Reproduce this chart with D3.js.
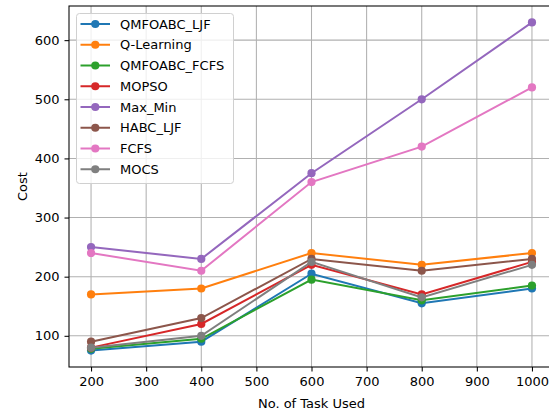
<!DOCTYPE html>
<html lang="en">
<head>
<meta charset="utf-8">
<title>Cost vs tasks</title>
<script src="https://d3js.org/d3.v7.min.js"></script>
<style>
  body { margin: 0; background: #fff; }
  svg { font-family: "DejaVu Sans", sans-serif; }
</style>
</head>
<body>
<script>
// data
var tasks = [200, 400, 600, 800, 1000];
var seriesNames = ["QMFOABC_LJF", "Q-Learning", "QMFOABC_FCFS", "MOPSO", "Max_Min", "HABC_LJF", "FCFS", "MOCS"];
var colors = ["#1f77b4", "#ff7f0e", "#2ca02c", "#d62728", "#9467bd", "#8c564b", "#e377c2", "#7f7f7f"];
var qmfoabcLjf = [75, 90, 205, 155, 180];
var qLearning = [170, 180, 240, 220, 240];
var qmfoabcFcfs = [78, 95, 195, 160, 185];
var mopso = [80, 120, 220, 170, 225];
var maxMin = [250, 230, 375, 500, 630];
var habcLjf = [90, 130, 230, 210, 230];
var fcfs = [240, 210, 360, 420, 520];
var mocs = [80, 100, 225, 165, 220];
var xTicks = [200, 300, 400, 500, 600, 700, 800, 900, 1000];
var yTicks = [100, 200, 300, 400, 500, 600];

var allSeries = [qmfoabcLjf, qLearning, qmfoabcFcfs, mopso, maxMin, habcLjf, fcfs, mocs];

var w = 549, h = 413;
var mLeft = 69, mRight = 554, mTop = 6, mBottom = 367;
var fs = 13;

var svg = d3.select("body").append("svg")
  .attr("width", w).attr("height", h);

var x = d3.scaleLinear().domain([160, 1040]).range([mLeft, mRight]);
var y = d3.scaleLinear().domain([47.25, 657.75]).range([mBottom, mTop]);

// grid
svg.append("g").selectAll("line").data(xTicks).enter().append("line")
  .attr("x1", d => x(d)).attr("x2", d => x(d))
  .attr("y1", mTop).attr("y2", mBottom)
  .attr("stroke", "#b0b0b0").attr("stroke-width", 1.05);
svg.append("g").selectAll("line").data(yTicks).enter().append("line")
  .attr("x1", mLeft).attr("x2", mRight)
  .attr("y1", d => y(d)).attr("y2", d => y(d))
  .attr("stroke", "#b0b0b0").attr("stroke-width", 1.05);

// lines and markers
var line = d3.line().x((d, i) => x(tasks[i])).y(d => y(d));
allSeries.forEach(function(vals, k) {
  svg.append("path").datum(vals)
    .attr("d", line).attr("fill", "none")
    .attr("stroke", colors[k]).attr("stroke-width", 2);
  svg.append("g").selectAll("circle").data(vals).enter().append("circle")
    .attr("cx", (d, i) => x(tasks[i])).attr("cy", d => y(d))
    .attr("r", 4.1).attr("fill", colors[k]);
});

// axes
var xAxis = d3.axisBottom(x).tickValues(xTicks).tickFormat(d3.format("d")).tickSize(4.5).tickPadding(5);
var yAxis = d3.axisLeft(y).tickValues(yTicks).tickFormat(d3.format("d")).tickSize(4.5).tickPadding(5);
var gx = svg.append("g").attr("transform", "translate(0," + mBottom + ")").call(xAxis);
var gy = svg.append("g").attr("transform", "translate(" + mLeft + ",0)").call(yAxis);
[gx, gy].forEach(function(g) {
  g.select(".domain").remove();
  g.selectAll("text").attr("font-size", fs).attr("fill", "#000").attr("font-family", "DejaVu Sans");
  g.selectAll("line").attr("stroke", "#000").attr("stroke-width", 1.05);
});
// spines
svg.append("rect").attr("x", mLeft).attr("y", mTop)
  .attr("width", mRight - mLeft).attr("height", mBottom - mTop)
  .attr("fill", "none").attr("stroke", "#000").attr("stroke-width", 1.05);

// labels
svg.append("text").attr("x", (mLeft + mRight) / 2).attr("y", 408)
  .attr("text-anchor", "middle").attr("font-size", fs).text("No. of Task Used");
svg.append("text").attr("transform", "translate(27," + ((mTop + mBottom) / 2) + ") rotate(-90)")
  .attr("text-anchor", "middle").attr("font-size", fs).text("Cost");

// legend
var lg = svg.append("g").attr("transform", "translate(76,13)");
lg.append("rect").attr("x", 0.5).attr("y", 0.5).attr("width", 157).attr("height", 170).attr("rx", 3)
  .attr("fill", "#fff").attr("fill-opacity", 0.8)
  .attr("stroke", "#d0d0d0").attr("stroke-width", 1);
seriesNames.forEach(function(name, k) {
  var yy = 11 + k * 20.75;
  lg.append("line").attr("x1", 4.5).attr("x2", 34).attr("y1", yy).attr("y2", yy)
    .attr("stroke", colors[k]).attr("stroke-width", 2);
  lg.append("circle").attr("cx", 19.3).attr("cy", yy).attr("r", 4.1).attr("fill", colors[k]);
  lg.append("text").attr("x", 44).attr("y", yy + 4.7).attr("font-size", fs).text(name);
});
</script>
</body>
</html>
